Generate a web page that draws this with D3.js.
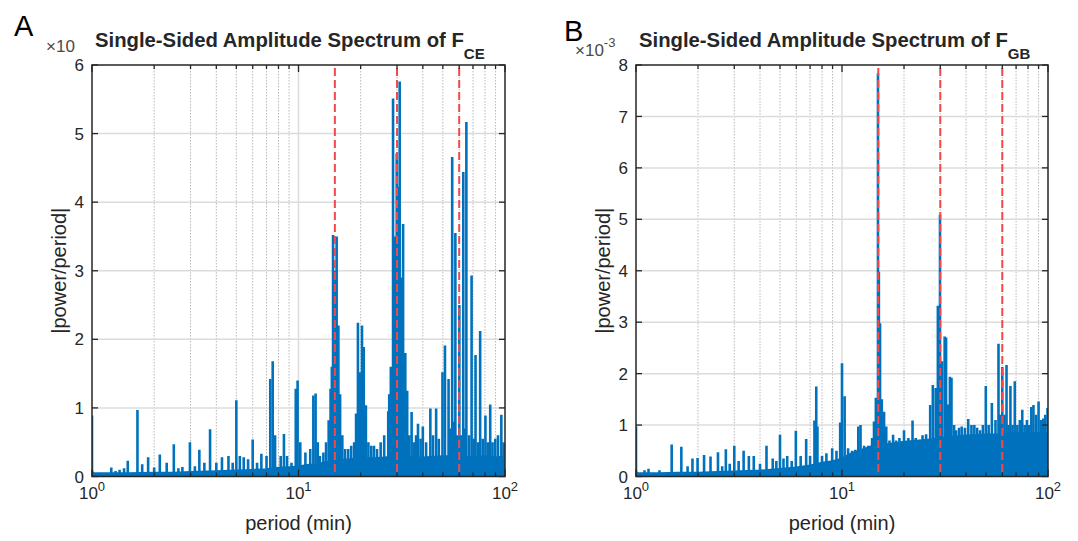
<!DOCTYPE html>
<html>
<head>
<meta charset="utf-8">
<script src="https://cdn.jsdelivr.net/npm/d3@7"></script>
<style>
  body { margin: 0; background: #fff; }
  svg text { font-family: "Liberation Sans", Arial, Helvetica, sans-serif; }
</style>
</head>
<body>
<svg id="chart" width="1078" height="541"></svg>
<script>
// ---- data ----
// panel A : F_CE
const floorPeriodsA = [1, 1.02, 1.2, 1.5, 2, 2.5, 3, 4, 5, 6, 7, 8, 9, 10, 11, 12, 13, 14, 16, 18, 20, 23, 26, 30, 35, 40, 50, 60, 70, 80, 90, 100];
const floorValuesA  = [0.08, 0.05, 0.05, 0.05, 0.06, 0.06, 0.07, 0.08, 0.09, 0.1, 0.11, 0.13, 0.14, 0.15, 0.17, 0.18, 0.2, 0.22, 0.24, 0.26, 0.27, 0.27, 0.28, 0.3, 0.28, 0.28, 0.3, 0.3, 0.28, 0.3, 0.28, 0.3];
const peakPeriodsA = [1.0, 1.24, 1.3, 1.36, 1.43, 1.49, 1.66, 1.75, 1.87, 2.0, 2.13, 2.3, 2.49, 2.62, 2.74, 2.98, 3.15, 3.31, 3.5, 3.73,
  4.0, 4.26, 4.58, 4.8, 5.0, 5.2, 5.43, 5.7, 6.0, 6.3, 6.61, 7.0, 7.3, 7.5, 7.7, 8.2, 8.5, 8.8, 9.25, 9.7,
  9.9, 10.2, 10.8, 11.4, 11.8, 12.1, 12.4, 12.7, 13.2, 13.6, 14.0, 14.3, 14.5, 14.7, 15.0, 15.3, 15.6, 15.9, 16.3, 16.8,
  17.4, 18.0, 18.6, 19.0, 19.4, 19.8, 20.3, 20.7, 21.2, 21.8, 22.5, 23.2, 24, 25, 26, 27.2, 27.5, 28.0, 28.7, 29.3,
  29.9, 30.4, 30.9, 31.4, 32.1, 32.9, 33.6, 34.4, 35.3, 36.2, 37.1, 37.9, 39, 40.0, 41.5, 43.5, 44.8, 46.4, 47.8, 49.8,
  51.2, 53.3, 54.4, 55.5, 56.5, 57.5, 58.6, 60.1, 61.4, 62.8, 63.8, 65.0, 67, 68.9, 70.5, 72.0, 74, 75.8, 78, 80.4,
  82.5, 84.8, 87, 89.7, 92.5, 96, 98.5];
const peakValuesA = [0.89, 0.13, 0.08, 0.1, 0.12, 0.23, 0.97, 0.18, 0.28, 0.13, 0.32, 0.2, 0.47, 0.12, 0.14, 0.5, 0.15, 0.39, 0.2, 0.69,
  0.2, 0.28, 0.3, 0.2, 1.11, 0.3, 0.28, 0.25, 0.54, 0.2, 0.33, 0.3, 1.42, 1.68, 0.6, 0.3, 0.62, 0.3, 0.2, 1.28,
  1.40, 0.5, 0.35, 0.4, 1.18, 1.21, 0.5, 0.3, 0.35, 0.5, 0.82, 1.28, 1.6, 3.52, 3.0, 3.5, 2.2, 1.2, 0.6, 0.4,
  0.4, 0.45, 0.5, 0.92, 2.24, 1.52, 2.2, 1.89, 1.04, 0.5, 0.45, 0.45, 0.4, 0.5, 0.6, 0.95, 1.2, 1.6, 5.51, 3.5,
  4.71, 4.22, 5.76, 2.9, 3.68, 1.8, 1.25, 0.6, 0.94, 0.5, 0.6, 0.77, 0.55, 0.73, 0.5, 0.99, 0.6, 0.99, 0.55, 1.52,
  1.91, 1.42, 0.7, 4.66, 0.8, 3.55, 0.6, 2.5, 0.6, 4.44, 0.7, 5.17, 0.6, 2.93, 0.55, 1.77, 0.5, 2.12, 0.55, 0.89,
  0.5, 1.05, 0.5, 0.55, 0.6, 0.9, 0.5];

// panel B : F_GB
const floorPeriodsB = [1, 1.02, 1.3, 1.6, 2, 2.5, 3, 4, 5, 6, 7, 8, 9, 10, 11, 12, 13, 14, 16, 18, 20, 23, 26, 30, 35, 40, 50, 60, 70, 80, 90, 100];
const floorValuesB  = [0.1, 0.07, 0.07, 0.08, 0.08, 0.09, 0.1, 0.12, 0.15, 0.18, 0.22, 0.27, 0.3, 0.35, 0.45, 0.5, 0.55, 0.6, 0.62, 0.65, 0.68, 0.7, 0.72, 0.75, 0.78, 0.8, 0.82, 0.82, 0.85, 0.85, 0.85, 0.85];
const peakPeriodsB = [1.0, 1.1, 1.15, 1.3, 1.49, 1.66, 1.78, 1.88, 1.99, 2.14, 2.3, 2.5, 2.62, 2.73, 2.85, 3.0, 3.15, 3.33, 3.53, 3.73,
  4.0, 4.3, 4.61, 4.8, 5.0, 5.2, 5.42, 5.7, 5.97, 6.3, 6.7, 7.0, 7.35, 7.5, 7.6, 8.0, 8.4, 8.96, 9.4, 9.8,
  10.0, 10.3, 10.7, 11.2, 11.6, 12.0, 12.3, 12.8, 13.4, 14.0, 14.3, 14.6, 14.95, 15.1, 15.3, 15.6, 16.0, 16.4, 17.0, 17.7,
  18.3, 19.0, 20.0, 21.0, 22.0, 22.8, 23.7, 24.6, 25.6, 26.8, 27.6, 28.5, 29.2, 29.9, 30.6, 31.5, 32.0, 32.7, 33.4, 34.0,
  35.0, 35.8, 37, 38.1, 39.5, 41.0, 42.5, 43.9, 45.3, 46.8, 48.3, 49.9, 51.5, 53.4, 55.6, 57.5, 58.7, 60.0, 61.5, 62.9,
  64.3, 65.7, 67.3, 69.0, 71, 73, 75.0, 77, 79, 81, 83, 85.0, 87.5, 90.0, 92.5, 94.9, 97, 99.5];
const peakValuesB = [0.97, 0.12, 0.15, 0.12, 0.62, 0.58, 0.2, 0.35, 0.36, 0.42, 0.39, 0.47, 0.2, 0.53, 0.25, 0.6, 0.3, 0.5, 0.4, 0.4,
  0.25, 0.6, 0.35, 0.3, 0.81, 0.35, 0.4, 0.3, 0.89, 0.4, 0.73, 0.4, 1.09, 1.75, 0.97, 0.4, 0.45, 0.55, 0.5, 1.05,
  2.2, 1.56, 0.55, 0.5, 0.52, 0.97, 1.0, 0.6, 0.6, 0.75, 1.07, 1.53, 7.84, 3.98, 2.98, 1.5, 1.26, 0.97, 0.7, 0.81,
  0.7, 0.75, 0.9, 0.75, 1.09, 0.75, 0.7, 0.8, 0.82, 1.39, 1.78, 1.72, 3.32, 5.09, 2.24, 2.72, 2.7, 1.4, 1.94, 1.92,
  1.0, 0.9, 0.95, 0.97, 0.95, 1.12, 1.0, 1.0, 0.95, 0.9, 1.0, 1.76, 1.0, 1.43, 1.1, 2.58, 1.2, 2.13, 1.2, 2.17,
  1.0, 1.76, 1.0, 1.85, 1.0, 1.1, 1.3, 1.0, 1.1, 1.0, 1.35, 1.39, 1.2, 1.46, 1.1, 1.13, 1.2, 1.33];

const markerPeriods = [15, 30, 60];
const yTicksA = [0, 1, 2, 3, 4, 5, 6];
const yTicksB = [0, 1, 2, 3, 4, 5, 6, 7, 8];
const xTickLabels = [1, 10, 100];

// ---- layout ----
const plotTop = 65, plotBottom = 476.5;
const blue = "#0072BD", axisColor = "#262626";
const svg = d3.select("#chart");

function drawPanel(p) {
  var x = d3.scaleLog().domain([1, 100]).range([p.left, p.right]);
  var y = d3.scaleLinear().domain([0, d3.max(p.yTicks)]).range([plotBottom, plotTop]);
  var g = svg.append("g");

  g.append("clipPath").attr("id", "clip" + p.id)
    .append("rect").attr("x", p.left).attr("y", plotTop)
    .attr("width", p.right - p.left).attr("height", plotBottom - plotTop);

  // grid
  var allX = x.ticks();
  g.selectAll(".gxm").data(allX.filter(d => d > 1 && d < 100 && d != 10)).join("line")
    .attr("x1", d => x(d)).attr("x2", d => x(d)).attr("y1", plotTop).attr("y2", plotBottom)
    .attr("stroke", "#b8b8b8").attr("stroke-width", 1).attr("stroke-dasharray", "1.5,1.5");
  g.append("line").attr("x1", x(10)).attr("x2", x(10)).attr("y1", plotTop).attr("y2", plotBottom)
    .attr("stroke", "#dcdcdc").attr("stroke-width", 1.5);
  g.selectAll(".gy").data(p.yTicks.slice(1, -1)).join("line")
    .attr("x1", p.left).attr("x2", p.right).attr("y1", d => y(d)).attr("y2", d => y(d))
    .attr("stroke", "#dcdcdc").attr("stroke-width", 1.5);

  // spectrum
  var data = g.append("g").attr("clip-path", "url(#clip" + p.id + ")");
  var floor = d3.zip(p.floorPeriods, p.floorValues);
  data.append("path").datum(floor)
    .attr("d", d3.area().x(d => x(d[0])).y0(y(0)).y1(d => y(d[1])))
    .attr("fill", blue).attr("stroke", blue).attr("stroke-width", 1.5);
  data.selectAll(".spike").data(d3.zip(p.peakPeriods, p.peakValues)).join("line")
    .attr("x1", d => x(d[0])).attr("x2", d => x(d[0]))
    .attr("y1", y(0)).attr("y2", d => y(d[1]))
    .attr("stroke", blue).attr("stroke-width", 2.6);

  // red dashed markers
  g.selectAll(".mark").data(markerPeriods).join("line")
    .attr("x1", d => x(d)).attr("x2", d => x(d)).attr("y1", plotTop + 3).attr("y2", plotBottom)
    .attr("stroke", "#f04a4c").attr("stroke-width", 2).attr("stroke-dasharray", "8,4");

  // box + ticks
  g.append("rect").attr("x", p.left).attr("y", plotTop)
    .attr("width", p.right - p.left).attr("height", plotBottom - plotTop)
    .attr("fill", "none").attr("stroke", axisColor).attr("stroke-width", 1.5);
  [plotBottom, plotTop].forEach(function(yy, i) {
    var dir = i == 0 ? -1 : 1;
    g.selectAll(".xt" + i).data(allX).join("line")
      .attr("x1", d => x(d)).attr("x2", d => x(d))
      .attr("y1", yy).attr("y2", d => yy + dir * (xTickLabels.includes(d) ? 7 : 4))
      .attr("stroke", axisColor).attr("stroke-width", 1.3);
  });
  [p.left, p.right].forEach(function(xx, i) {
    var dir = i == 0 ? 1 : -1;
    g.selectAll(".yt" + i).data(p.yTicks).join("line")
      .attr("x1", xx).attr("x2", xx + dir * 6).attr("y1", d => y(d)).attr("y2", d => y(d))
      .attr("stroke", axisColor).attr("stroke-width", 1.3);
  });

  // tick labels
  g.selectAll(".yl").data(p.yTicks).join("text")
    .attr("x", p.left - 8).attr("y", d => y(d)).attr("dy", "0.36em")
    .attr("text-anchor", "end").attr("font-size", 17).attr("fill", axisColor).text(d => d);
  var xl = g.selectAll(".xl").data(xTickLabels).join("text")
    .attr("x", d => x(d)).attr("y", 499).attr("text-anchor", "middle")
    .attr("font-size", 17).attr("fill", axisColor);
  xl.append("tspan").text("10");
  xl.append("tspan").attr("dy", -8).attr("font-size", 13).text(d => Math.round(Math.log10(d)));

  // labels
  g.append("text").attr("x", (p.left + p.right) / 2).attr("y", 530)
    .attr("text-anchor", "middle").attr("font-size", 20).attr("fill", axisColor).text("period (min)");
  g.append("text").attr("transform", "translate(" + (p.left - 26) + "," + ((plotTop + plotBottom) / 2) + ") rotate(-90)")
    .attr("text-anchor", "middle").attr("font-size", 20).attr("fill", axisColor).text("|power/period|");

  var t = g.append("text").attr("x", p.left + 3).attr("y", 47)
    .attr("font-size", 20.3).attr("font-weight", "bold").attr("fill", axisColor);
  t.append("tspan").text("Single-Sided Amplitude Spectrum of F");
  t.append("tspan").attr("dy", 12).attr("font-size", 15).text(p.sub);

  var e = g.append("text").attr("x", p.expX).attr("y", p.expY)
    .attr("font-size", 17).attr("fill", "#4a4a4a");
  e.append("tspan").text("\u00d710");
  if (p.exp) e.append("tspan").attr("dy", -9).attr("font-size", 13).text(p.exp);

  g.append("text").attr("x", p.letterX).attr("y", p.letterY)
    .attr("font-family", "'Open Sans', sans-serif").attr("font-size", 29).attr("fill", "#000")
    .text(p.letter);
}

drawPanel({ id: "A", left: 92, right: 505, yTicks: yTicksA,
  floorPeriods: floorPeriodsA, floorValues: floorValuesA,
  peakPeriods: peakPeriodsA, peakValues: peakValuesA,
  sub: "CE", exp: "", expX: 46, expY: 52, letter: "A", letterX: 14, letterY: 36 });
drawPanel({ id: "B", left: 636, right: 1048, yTicks: yTicksB,
  floorPeriods: floorPeriodsB, floorValues: floorValuesB,
  peakPeriods: peakPeriodsB, peakValues: peakValuesB,
  sub: "GB", exp: "-3", expX: 575, expY: 56, letter: "B", letterX: 564, letterY: 41 });
</script>
</body>
</html>
